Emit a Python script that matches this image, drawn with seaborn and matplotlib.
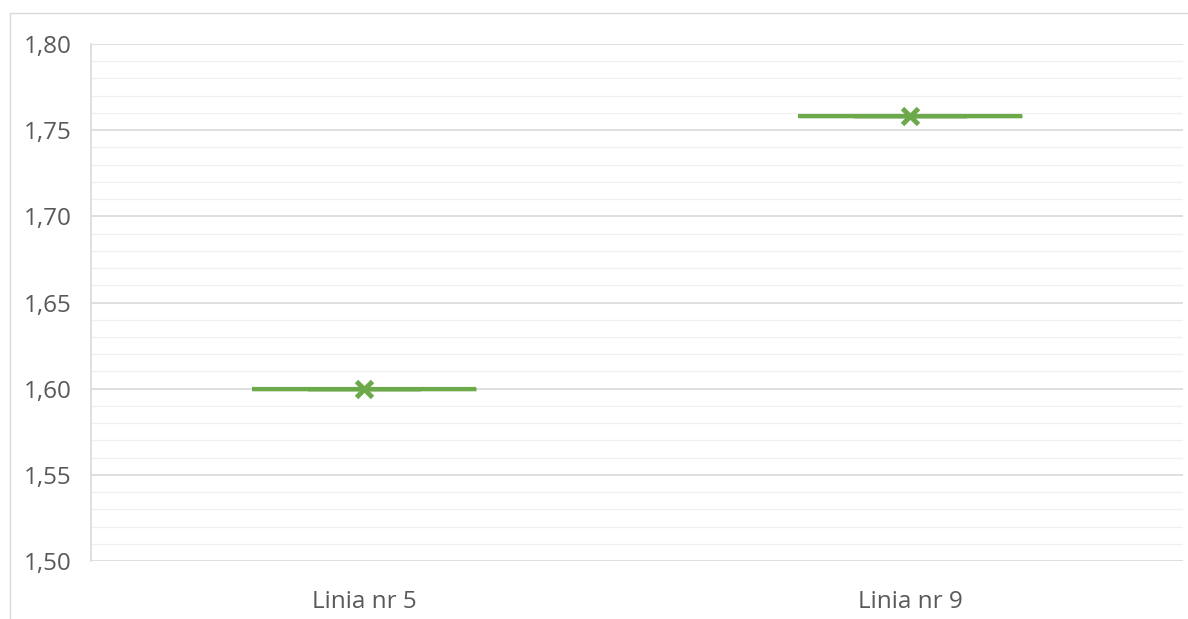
import matplotlib
matplotlib.use("Agg")
import matplotlib.pyplot as plt
import seaborn as sns
import pandas as pd
from matplotlib.ticker import MultipleLocator, FuncFormatter
from matplotlib.patches import Rectangle

categories = ["Linia nr 5", "Linia nr 9"]
values = [1.600, 1.758]
y_ticks = [1.50, 1.55, 1.60, 1.65, 1.70, 1.75, 1.80]

sns.set_theme(style="white")
plt.rcParams['font.family'] = ['Open Sans', 'DejaVu Sans']

green = "#6CA94A"
df = pd.DataFrame({"cat": categories, "val": values})

fig = plt.figure(figsize=(11.88, 6.19), dpi=100)
fig.patches.append(Rectangle((10/1188, -0.1), 1.2, (619-13)/619 + 0.1,
                             transform=fig.transFigure, fill=False,
                             edgecolor="#D9D9D9", linewidth=1.0))
ax = fig.add_axes([91/1188, 58/619, 1092/1188, 517/619])

sns.boxplot(data=df, x="cat", y="val", ax=ax, width=0.41, showmeans=True,
            showfliers=False, color=green,
            boxprops=dict(facecolor="none", edgecolor=green, linewidth=2.5),
            medianprops=dict(color=green, linewidth=3),
            whiskerprops=dict(color=green, linewidth=2.5),
            capprops=dict(color=green, linewidth=2.5),
            meanprops=dict(marker="x", markeredgecolor=green, markerfacecolor=green,
                           markersize=12, markeredgewidth=3.5))

ax.set_ylim(y_ticks[0], y_ticks[-1])
ax.set_yticks(y_ticks)
ax.yaxis.set_minor_locator(MultipleLocator(0.01))
ax.yaxis.set_major_formatter(FuncFormatter(lambda v, p: f"{v:.2f}".replace(".", ",")))
ax.grid(axis="y", which="major", color="#D9D9D9", linewidth=1.2)
ax.grid(axis="y", which="minor", color="#F0F0F0", linewidth=1.0)
ax.set_axisbelow(True)
for s in ["top", "right", "bottom"]:
    ax.spines[s].set_visible(False)
ax.spines["left"].set_color("#D9D9D9")
ax.spines["left"].set_linewidth(1.2)
ax.tick_params(axis="both", which="both", length=0, colors="#595959", labelsize=17.5)
ax.tick_params(axis="y", pad=14)
ax.tick_params(axis="x", pad=21)
ax.set_xlabel("")
ax.set_ylabel("")

fig.savefig("out.png", dpi=100)
